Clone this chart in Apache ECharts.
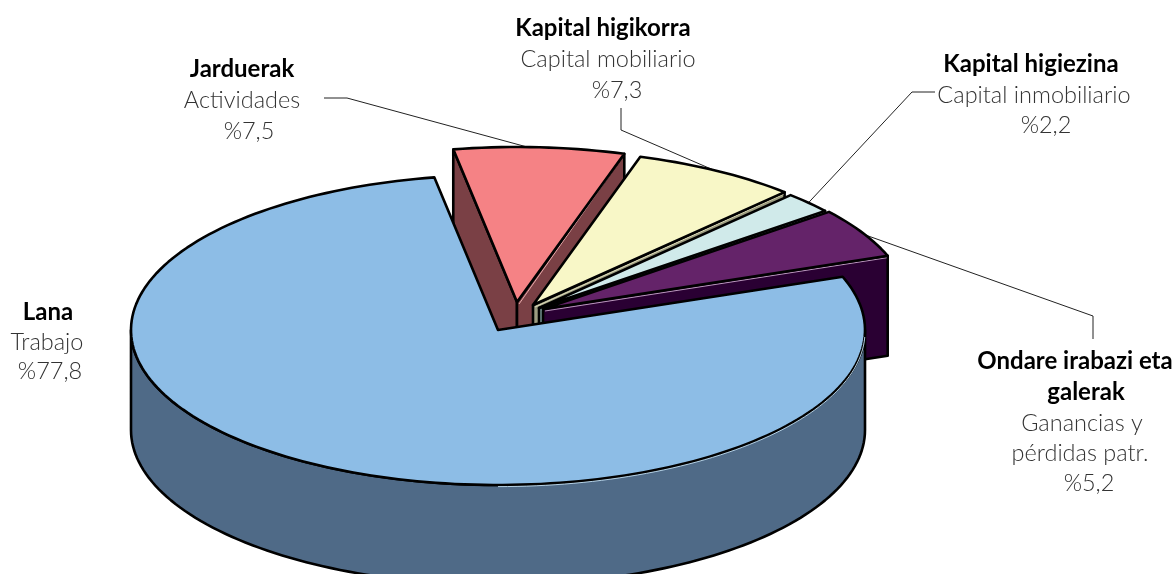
<!DOCTYPE html>
<html><head><meta charset="utf-8">
<style>html,body{margin:0;padding:0;background:#fff}#c{width:1175px;height:574px}</style>
<script src="https://cdn.jsdelivr.net/npm/echarts@6/dist/echarts.min.js"></script>
</head><body><div id="c"></div>
<script>
// Data (clockwise, starting from the top-left cut of the pie)
const basque = ['Jarduerak', 'Kapital higikorra', 'Kapital higiezina', 'Ondare irabazi eta galerak', 'Lana'];
const spanish = ['Actividades', 'Capital mobiliario', 'Capital inmobiliario', 'Ganancias y pérdidas patr.', 'Trabajo'];
const shares = [7.5, 7.3, 2.2, 5.2, 77.8];

// Style and layout
const topColors = ['#F58285', '#F8F7C7', '#D0EAEA', '#642369', '#8DBDE6'];
const sideColors = ['#7A4045', '#9C9C80', '#7C9A9A', '#2A0033', '#4F6A87'];
const glintColors = ['#F2B4B4', '#E4E2C0', '#B8D8D8', '#C9A9CC', '#C4E2F6'];
const centers = [[517, 302], [533, 305], [539, 308], [543, 309], [498, 330]];
const RX = 367, RY = 155, DEPTH = 100, START = -10;
const leaderAnchor = [0.43, 0.475, 0.5, 0.55, 0];
const leaderElbows = [
  [[347, 98], [324, 98]],
  [[621, 130], [621, 108]],
  [[912, 92], [935, 92]],
  [[1093, 316], [1093, 339]],
  []
];
const BOLD = 700, LIGHT = 300;
const textLines = [
  [[basque[0], 242, 69, BOLD], [spanish[0], 242, 100, LIGHT], ['%', 249, 131, LIGHT, 0]],
  [[basque[1], 603, 28, BOLD], [spanish[1], 608, 59, LIGHT], ['%', 617, 90, LIGHT, 1]],
  [[basque[2], 1031, 64, BOLD], [spanish[2], 1034, 95, LIGHT], ['%', 1046, 125, LIGHT, 2]],
  [['Ondare irabazi eta', 1075, 361, BOLD], ['galerak', 1086, 392, BOLD], ['Ganancias y', 1082, 423, LIGHT], ['pérdidas patr.', 1080, 453, LIGHT], ['%', 1089, 483, LIGHT, 3]],
  [[basque[4], 48, 312, BOLD], [spanish[4], 47, 342, LIGHT], ['%', 50, 371, LIGHT, 4]]
];

const total = shares.reduce((a, b) => a + b, 0);
const rad = d => d * Math.PI / 180;
const rim = (c, a, dz) => [c[0] + RX * Math.sin(rad(a)), c[1] - RY * Math.cos(rad(a)) + (dz || 0)];
function arc(c, a0, a1, dz) {
  const n = Math.max(2, Math.ceil(Math.abs(a1 - a0) / 1.5)), p = [];
  for (let i = 0; i <= n; i++) p.push(rim(c, a0 + (a1 - a0) * i / n, dz));
  return p;
}
const outline = { stroke: '#000', lineWidth: 2.6, lineJoin: 'round' };
const poly = (points, fill) => ({ type: 'polygon', shape: { points }, style: Object.assign({ fill }, outline) });
const glint = (points, stroke) => ({ type: 'polyline', shape: { points }, style: { stroke, lineWidth: 0.9, fill: null } });

function renderSlice(params, api) {
  const i = params.dataIndex;
  let before = 0;
  for (let k = 0; k < i; k++) before += shares[k];
  const a0 = START + before / total * 360;
  const a1 = a0 + api.value(0) / total * 360;
  const c = centers[i], side = sideColors[i], kids = [];
  const apexLow = [c[0], c[1] + DEPTH];
  const wall = a => [c, rim(c, a), rim(c, a, DEPTH), apexLow];
  if (Math.sin(rad(a0)) < 0) kids.push(poly(wall(a0), side));
  if (Math.sin(rad(a1)) > 0) {
    kids.push(poly(wall(a1), side));
    const e = rim(c, a1);
    kids.push(glint([[c[0] + 2, c[1] + 2], [e[0] - 1, e[1] + 2]], glintColors[i]));
  }
  const v0 = Math.max(a0, 90), v1 = Math.min(a1, 270);
  if (v1 > v0) kids.push(poly(arc(c, v0, v1, 0).concat(arc(c, v1, v0, DEPTH)), side));
  kids.push(poly([c].concat(arc(c, a0, a1, 0)), topColors[i]));
  if (a1 - a0 > 180) kids.push(glint(arc(c, 92, 180, 1.6), glintColors[i]));
  return { type: 'group', children: kids };
}

const graphics = [];
let acc = 0;
shares.forEach((v, i) => {
  const a = START + (acc + v * leaderAnchor[i]) / total * 360;
  acc += v;
  if (leaderElbows[i].length) {
    graphics.push({ type: 'polyline', z: -1, silent: true,
      shape: { points: [rim(centers[i], a)].concat(leaderElbows[i]) },
      style: { stroke: '#222', lineWidth: 1, fill: null } });
  }
});
textLines.forEach(lines => lines.forEach(l => {
  const txt = l[0] === '%' ? '%' + shares[l[4]].toFixed(1).replace('.', ',') : l[0];
  graphics.push({ type: 'text', x: l[1], y: l[2], silent: true,
    style: { text: txt, textAlign: 'center', textVerticalAlign: 'middle',
      fontFamily: 'Lato, "Open Sans", sans-serif', fontWeight: l[3],
      fontSize: l[3] === BOLD ? 24 : 23.5, fill: l[3] === BOLD ? '#000' : '#333' } });
}));

const chart = echarts.init(document.getElementById('c'), null, { renderer: 'canvas' });
chart.setOption({
  animation: false,
  backgroundColor: '#fff',
  graphic: graphics,
  series: [{
    type: 'custom',
    coordinateSystem: 'none',
    renderItem: renderSlice,
    silent: true,
    encode: { value: 0 },
    data: shares.map((v, i) => ({ name: basque[i], value: [v] }))
  }]
});
</script></body></html>
